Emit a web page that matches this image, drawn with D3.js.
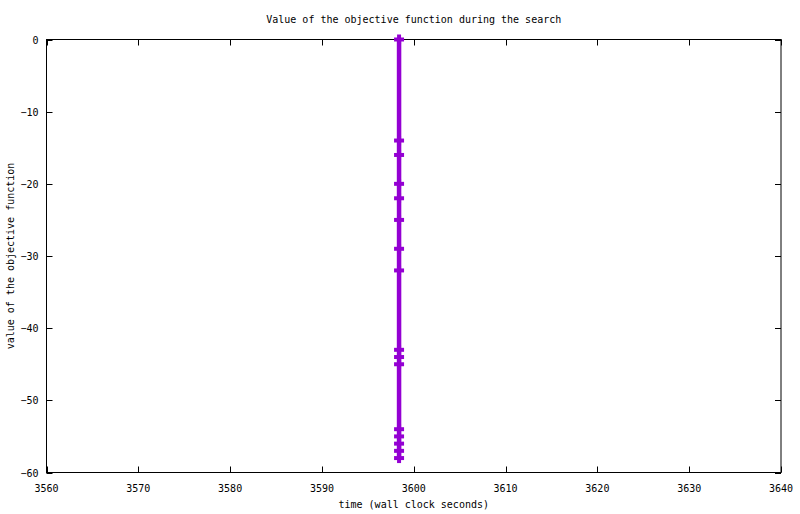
<!DOCTYPE html>
<html>
<head>
<meta charset="utf-8">
<script src="https://cdn.jsdelivr.net/npm/d3@7"></script>
<style>
  body { margin: 0; background: #fff; }
  text { font-family: "DejaVu Sans Mono", monospace; font-size: 10px; fill: #000; }
</style>
</head>
<body>
<div id="chart"></div>
<script>
// Objective value recorded during the search (all at almost the same wall clock time)
const times = [3598.4, 3598.4, 3598.4, 3598.4, 3598.4, 3598.4, 3598.4, 3598.4,
  3598.4, 3598.4, 3598.4, 3598.4, 3598.4, 3598.4, 3598.4, 3598.4];
const values = [0, -14, -16, -20, -22, -25, -29, -32, -43, -44, -45, -54, -55, -56, -57, -58];
const xTicks = [3560, 3570, 3580, 3590, 3600, 3610, 3620, 3630, 3640];
const yTicks = [0, -10, -20, -30, -40, -50, -60];

const width = 800, height = 514;
const margin = { top: 39.5, right: 19, bottom: 41.5, left: 46.5 };
const lineColor = '#9400d3';

const points = values.map((v, i) => ({ t: times[i], v: v }));

const svg = d3.select('#chart')
  .append('svg')
  .attr('width', width)
  .attr('height', height);

const x = d3.scaleLinear()
  .domain([3560, 3640])
  .range([margin.left, width - margin.right]);

const y = d3.scaleLinear()
  .domain([-60, 0])
  .range([height - margin.bottom, margin.top]);

const tickLen = 6;

// Ticks on all four sides, pointing inwards (gnuplot mirror style)
const ticks = svg.append('g').attr('stroke', '#000').attr('stroke-width', 1);
xTicks.forEach(function (d) {
  const px = Math.round(x(d)) + 0.5;
  ticks.append('line').attr('x1', px).attr('x2', px)
    .attr('y1', y(-60)).attr('y2', y(-60) - tickLen);
  ticks.append('line').attr('x1', px).attr('x2', px)
    .attr('y1', y(0)).attr('y2', y(0) + tickLen);
});
yTicks.forEach(function (d) {
  const py = Math.round(y(d)) + 0.5;
  ticks.append('line').attr('y1', py).attr('y2', py)
    .attr('x1', x(3560)).attr('x2', x(3560) + tickLen);
  ticks.append('line').attr('y1', py).attr('y2', py)
    .attr('x1', x(3640)).attr('x2', x(3640) - tickLen);
});

// Tick labels
svg.append('g')
  .selectAll('text')
  .data(xTicks)
  .enter()
  .append('text')
  .attr('x', d => x(d))
  .attr('y', y(-60) + 19)
  .attr('text-anchor', 'middle')
  .text(d => d);

svg.append('g')
  .selectAll('text')
  .data(yTicks)
  .enter()
  .append('text')
  .attr('x', x(3560) - 8)
  .attr('y', d => y(d) + 4)
  .attr('text-anchor', 'end')
  .text(d => d === 0 ? '0' : '\u2212' + Math.abs(d));

// Border
svg.append('rect')
  .attr('x', x(3560))
  .attr('y', y(0))
  .attr('width', x(3640) - x(3560))
  .attr('height', y(-60) - y(0))
  .attr('fill', 'none')
  .attr('stroke', '#000')
  .attr('stroke-width', 1);

// The line joining the points
const line = d3.line()
  .x(d => x(d.t))
  .y(d => y(d.v));

svg.append('path')
  .datum(points)
  .attr('d', line)
  .attr('fill', 'none')
  .attr('stroke', lineColor)
  .attr('stroke-width', 4.5);

// Point markers: thick plus signs
const plusSize = 5;
const marks = svg.append('g')
  .attr('stroke', lineColor)
  .attr('stroke-width', 4);
points.forEach(function (d) {
  const cx = x(d.t), cy = y(d.v);
  marks.append('line')
    .attr('x1', cx - plusSize).attr('x2', cx + plusSize)
    .attr('y1', cy).attr('y2', cy);
  marks.append('line')
    .attr('x1', cx).attr('x2', cx)
    .attr('y1', cy - plusSize).attr('y2', cy + plusSize);
});

// Title and axis labels
svg.append('text')
  .attr('x', (x(3560) + x(3640)) / 2)
  .attr('y', 23)
  .attr('text-anchor', 'middle')
  .text('Value of the objective function during the search');

svg.append('text')
  .attr('x', (x(3560) + x(3640)) / 2)
  .attr('y', 508)
  .attr('text-anchor', 'middle')
  .text('time (wall clock seconds)');

svg.append('text')
  .attr('transform', 'translate(14,' + ((y(0) + y(-60)) / 2) + ') rotate(-90)')
  .attr('text-anchor', 'middle')
  .text('value of the objective function');
</script>
</body>
</html>
